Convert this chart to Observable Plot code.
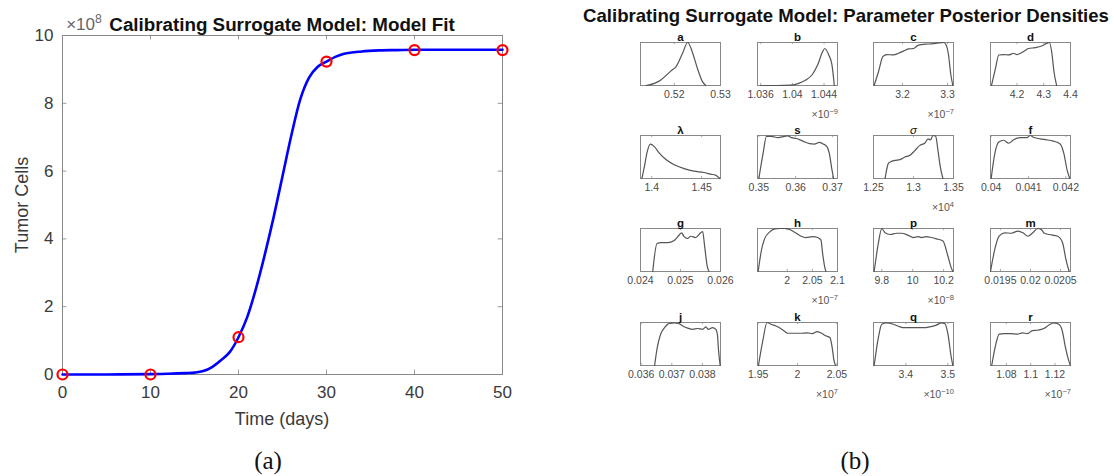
<!DOCTYPE html>
<html><head><meta charset="utf-8">
<script src="https://cdn.jsdelivr.net/npm/d3@7"></script>
<script src="https://cdn.jsdelivr.net/npm/@observablehq/plot@0.6"></script>
<style>
body{margin:0;background:#fff;font-family:"Liberation Sans",Arial,sans-serif}
#root{position:relative;width:1114px;height:476px;overflow:hidden;background:#fff}
sup{font-size:72%;line-height:0;vertical-align:0.55em}
</style></head><body><div id="root"></div>
<script>
// ---- Panel (a): model fit ----
const fitTime  = [0,5,10,12,14,15,16,17,18,19,20,21,22,23,24,25,26,27,28,29,30,31,32,34,36,38,40,45,50];
const fitCells = [0,0.001,0.01,0.02,0.04,0.055,0.1,0.22,0.42,0.66,1.10,1.70,2.55,3.55,4.65,5.85,7.05,8.1,8.75,9.08,9.23,9.37,9.46,9.53,9.56,9.57,9.58,9.58,9.58];
const obsTime  = [0,10,20,30,40,50];
const obsCells = [0,0,1.10,9.23,9.57,9.57];
const xTicksA = [0,10,20,30,40,50];
const yTicksA = [0,2,4,6,8,10];

// ---- Panel (b): posterior densities ----
const panelNames = ["a","b","c","d","λ","s","σ","f","g","h","p","m","j","k","q","r"];
const panelDomains = [[0.5127,0.53],[1.0356,1.0457],[3.1356,3.3133],[4.1012,4.4],
  [1.3887,1.4689],[0.34964,0.37134],[1.25,1.35],[0.039982,0.042124],
  [0.024,0.026],[1.9408,2.1],[9.7465,10.264],[0.019335,0.020665],
  [0.035978,0.03859],[1.9492,2.0508],[3.3228,3.5134],[1.0669,1.1328]];
const panelTicks = [[0.52,0.53],[1.036,1.04,1.044],[3.2,3.3],[4.2,4.3,4.4],
  [1.4,1.45],[0.35,0.36,0.37],[1.25,1.3,1.35],[0.04,0.041,0.042],
  [0.024,0.025,0.026],[2,2.05,2.1],[9.8,10,10.2],[0.0195,0.02,0.0205],
  [0.036,0.037,0.038],[1.95,2,2.05],[3.4,3.5],[1.08,1.1,1.12]];
const panelExponents = ["","-9","-7","","","","4","","","-7","-8","","","7","-10","-7"];

const aX = [0.5139,0.5157,0.5171,0.5193,0.5204,0.5218,0.5229,0.5239,0.5250,0.5261,0.5268];
const aY = [0,0.05,0.13,0.34,0.44,0.75,1.0,0.78,0.40,0.09,0];
const bX = [1.0360,1.0380,1.0398,1.0408,1.0417,1.0425,1.0432,1.0438,1.0441,1.0446,1.0450,1.0453];
const bY = [0,0,0.01,0.05,0.13,0.25,0.48,0.78,0.86,0.71,0.48,0];
const cX = [3.137,3.1467,3.1563,3.1652,3.18,3.1911,3.2022,3.2133,3.2244,3.2356,3.2504,3.2652,3.28,3.2911,3.297,3.3022,3.3074,3.3119];
const cY = [0,0.32,0.67,0.72,0.71,0.75,0.80,0.85,0.86,0.94,0.96,0.97,0.99,1.0,0.94,0.71,0.25,0];
const dX = [4.1049,4.1198,4.1321,4.1506,4.1691,4.1877,4.2,4.2247,4.2432,4.2679,4.2926,4.3111,4.321,4.3296,4.3383,4.3481];
const dY = [0,0.40,0.71,0.72,0.71,0.75,0.72,0.79,0.86,0.88,0.92,0.98,1.0,0.79,0.32,0];
const lamX = [1.3901,1.3927,1.3954,1.3987,1.4026,1.4076,1.4142,1.4225,1.4325,1.4424,1.4523,1.4589,1.4639,1.4682];
const lamY = [0,0.29,0.62,0.80,0.74,0.59,0.44,0.32,0.23,0.17,0.14,0.10,0.08,0];
const sX = [0.35,0.35117,0.35206,0.35341,0.3552,0.357,0.35789,0.35879,0.36013,0.36193,0.36372,0.36507,0.36641,0.36731,0.36848,0.3691,0.36982,0.37027];
const sY = [0,0.59,0.98,0.98,0.95,0.98,0.99,0.95,0.93,0.87,0.81,0.80,0.84,0.81,0.74,0.59,0.21,0];
const sigX = [1.2645,1.2686,1.2715,1.2769,1.2831,1.2893,1.2955,1.3017,1.3079,1.314,1.3182,1.3211,1.3244,1.3277,1.3306,1.3335,1.3368];
const sigY = [0,0.35,0.39,0.42,0.44,0.50,0.54,0.65,0.77,0.82,0.92,0.90,1.0,0.98,0.65,0.27,0];
const fX = [0.04,0.040097,0.040204,0.040336,0.040469,0.040602,0.040779,0.040956,0.041044,0.041133,0.04131,0.041487,0.041664,0.041841,0.041947,0.042035,0.042106];
const fY = [0,0.58,0.85,0.89,0.82,0.90,0.95,0.95,1.0,0.96,0.92,0.90,0.87,0.81,0.58,0.19,0];
const gX = [0.024306,0.024413,0.024512,0.024678,0.024843,0.024967,0.025025,0.025091,0.025174,0.025256,0.02538,0.025504,0.025554,0.025603,0.025669,0.025711];
const gY = [0,0.65,0.67,0.67,0.72,0.85,0.90,0.81,0.77,0.82,0.79,0.90,0.93,0.59,0.12,0];
const hX = [1.9421,1.9487,1.9553,1.9651,1.975,1.9849,1.9947,2.0013,2.0079,2.0178,2.0276,2.0375,2.0507,2.0605,2.0671,2.0704,2.075,2.077];
const hY = [0,0.50,0.77,0.92,0.99,1.0,1.0,0.99,0.96,0.89,0.82,0.79,0.81,0.79,0.73,0.42,0.08,0];
const pX = [9.7508,9.7786,9.8,9.8214,9.8535,9.8963,9.9283,9.9711,10.0032,10.0353,10.0567,10.0888,10.1209,10.1529,10.1957,10.2278,10.2492,10.2599];
const pY = [0,0.67,1.0,0.90,0.86,0.89,0.89,0.84,0.79,0.81,0.79,0.81,0.79,0.76,0.71,0.36,0.09,0];
const mX = [0.019335,0.019407,0.019478,0.019571,0.019681,0.019791,0.019874,0.019956,0.020038,0.020121,0.020176,0.020231,0.020313,0.020451,0.020533,0.020588,0.020643];
const mY = [0,0.52,0.82,0.90,0.89,0.94,0.90,0.82,0.90,1.0,0.98,0.89,0.86,0.82,0.67,0.29,0];
const jX = [0.036438,0.036524,0.036632,0.036762,0.036924,0.037086,0.037216,0.037357,0.037519,0.037681,0.037843,0.038005,0.038114,0.038189,0.03833,0.038438,0.038492,0.038524,0.038578];
const jY = [0,0.41,0.72,0.88,0.98,0.99,0.98,0.92,0.87,0.84,0.86,0.84,0.90,0.84,0.88,0.84,0.70,0.37,0];
const kX = [1.9504,1.9559,1.9613,1.9664,1.9748,1.9832,1.9874,1.9958,2.0042,2.0126,2.0189,2.0252,2.0294,2.0357,2.0412,2.0441,2.0462,2.0483];
const kY = [0,0.57,1.0,0.96,0.90,0.80,0.75,0.75,0.75,0.76,0.74,0.79,0.76,0.69,0.65,0.41,0.13,0];
const qX = [3.3244,3.3346,3.3425,3.3543,3.3701,3.3858,3.3976,3.4173,3.4409,3.4567,3.4724,3.4843,3.4921,3.5,3.5079,3.5118];
const qY = [0,0.66,0.96,0.99,0.96,0.90,0.88,0.88,0.88,0.90,0.94,0.99,0.98,0.74,0.20,0];
const rX = [1.0679,1.0714,1.0741,1.0782,1.0837,1.0891,1.0932,1.0973,1.1014,1.1054,1.1109,1.115,1.119,1.1231,1.1259,1.1286,1.1313,1.1327];
const rY = [0,0.51,0.73,0.74,0.74,0.73,0.76,0.74,0.81,0.82,0.86,0.94,0.99,0.96,0.82,0.43,0.12,0];

const densX = [aX,bX,cX,dX,lamX,sX,sigX,fX,gX,hX,pX,mX,jX,kX,qX,rX];
const densY = [aY,bY,cY,dY,lamY,sY,sigY,fY,gY,hY,pY,mY,jY,kY,qY,rY];

// ---- layout ----
const root = document.getElementById("root");
const FONT = "'Liberation Sans', Arial, sans-serif";
function place(el, left, top){ el.style.position="absolute"; el.style.left=left+"px"; el.style.top=top+"px"; root.appendChild(el); }
function label(html, x, y, css, tx="-50%"){ const d=document.createElement("div"); d.innerHTML=html;
  d.style.cssText=`position:absolute;left:${x}px;top:${y}px;transform:translate(${tx},-50%);white-space:nowrap;line-height:1;${css}`; root.appendChild(d); return d; }

// Left chart
const fit = fitTime.map((t,i)=>({t, v: fitCells[i]}));
const obs = obsTime.map((t,i)=>({t, v: obsCells[i]}));
const leftPlot = Plot.plot({
  width: 520, height: 430, marginLeft: 62, marginRight: 18, marginTop: 35, marginBottom: 56,
  x: {domain:[0,50], ticks: xTicksA, tickSize: 0, tickPadding: 11, label: null},
  y: {domain:[0,10], ticks: yTicksA, tickSize: 0, tickPadding: 9, label: null},
  style: {fontFamily: FONT, fontSize: "17px", color: "#3a3a3a", background: "transparent", overflow:"visible"},
  marks: [
    Plot.ruleX(xTicksA.slice(1,-1), {y1: 0, y2: 0.13, stroke: "#999"}),
    Plot.ruleX(xTicksA.slice(1,-1), {y1: 10, y2: 9.87, stroke: "#999"}),
    Plot.ruleY(yTicksA.slice(1,-1), {x1: 0, x2: 0.5, stroke: "#999"}),
    Plot.ruleY(yTicksA.slice(1,-1), {x1: 50, x2: 49.5, stroke: "#999"}),
    Plot.frame({stroke: "#888"}),
    Plot.line(fit, {x: "t", y: "v", stroke: "#0000ff", strokeWidth: 2.6, curve: "monotone-x"}),
    Plot.dot(obs, {x: "t", y: "v", r: 5, stroke: "#ff0000", strokeWidth: 2.2, fill: "none"})
  ]
});
place(leftPlot, 0, 0);
label("Calibrating Surrogate Model: Model Fit", 282, 25, `font:bold 18.8px ${FONT};color:#111`);
label("×10<sup>8</sup>", 84, 25, `font:17px ${FONT};color:#666`);
label("Time (days)", 282, 419, `font:18px ${FONT};color:#3a3a3a`);
label("Tumor Cells", 22, 205, `font:18px ${FONT};color:#3a3a3a;transform:translate(-50%,-50%) rotate(-90deg)`);
label("(a)", 268, 461, `font:25px 'Liberation Serif','DejaVu Serif',serif;color:#111`);
label("(b)", 855, 461, `font:25px 'Liberation Serif','DejaVu Serif',serif;color:#111`);

// Right grid
label("Calibrating Surrogate Model: Parameter Posterior Densities", 846, 16, `font:bold 18.6px ${FONT};color:#111`);
const colLeft = [640, 757, 873, 990];
const rowTop = [42, 135, 228, 322];
const BW = 80, BH = 43;
panelNames.forEach((name, i) => {
  const col = i % 4, row = Math.floor(i / 4);
  const ML = 24, MR = 24, MT = 18, MB = 38;
  const data = densX[i].map((x,k)=>({x, y: densY[i][k]}));
  const ticks = panelTicks[i];
  const p = Plot.plot({
    width: BW+ML+MR, height: BH+MT+MB, marginLeft: ML, marginRight: MR, marginTop: MT, marginBottom: MB,
    x: {domain: panelDomains[i], ticks, tickFormat: d => String(d), tickSize: 0, tickPadding: 5, label: null},
    y: {domain: [0,1], axis: null},
    style: {fontFamily: FONT, fontSize: "10.5px", color: "#4a4a4a", background: "transparent", overflow: "visible"},
    marks: [
      Plot.ruleX(ticks, {y1: 0, y2: 0.05, stroke: "#aaa"}),
      Plot.ruleX(ticks, {y1: 1, y2: 0.95, stroke: "#aaa"}),
      Plot.frame({stroke: "#888"}),
      Plot.line(data, {x: "x", y: "y", stroke: "#555", strokeWidth: 1.2, curve: "monotone-x"}),
      Plot.text([name], {frameAnchor: "top", dy: -2, lineAnchor: "bottom", fontWeight: (name==="σ") ? "normal" : "bold",
        fontStyle: (name==="σ") ? "italic" : "normal", fontSize: 11.5, fill: "#111"})
    ]
  });
  place(p, colLeft[col]-ML, rowTop[row]-MT);
  const exp = panelExponents[i];
  if (exp) label(`×10<sup>${exp.replace("-","−")}</sup>`, colLeft[col]+BW+1, rowTop[row]+BH+29, `font:10.5px ${FONT};color:#555`, "-100%");
});
</script></body></html>
